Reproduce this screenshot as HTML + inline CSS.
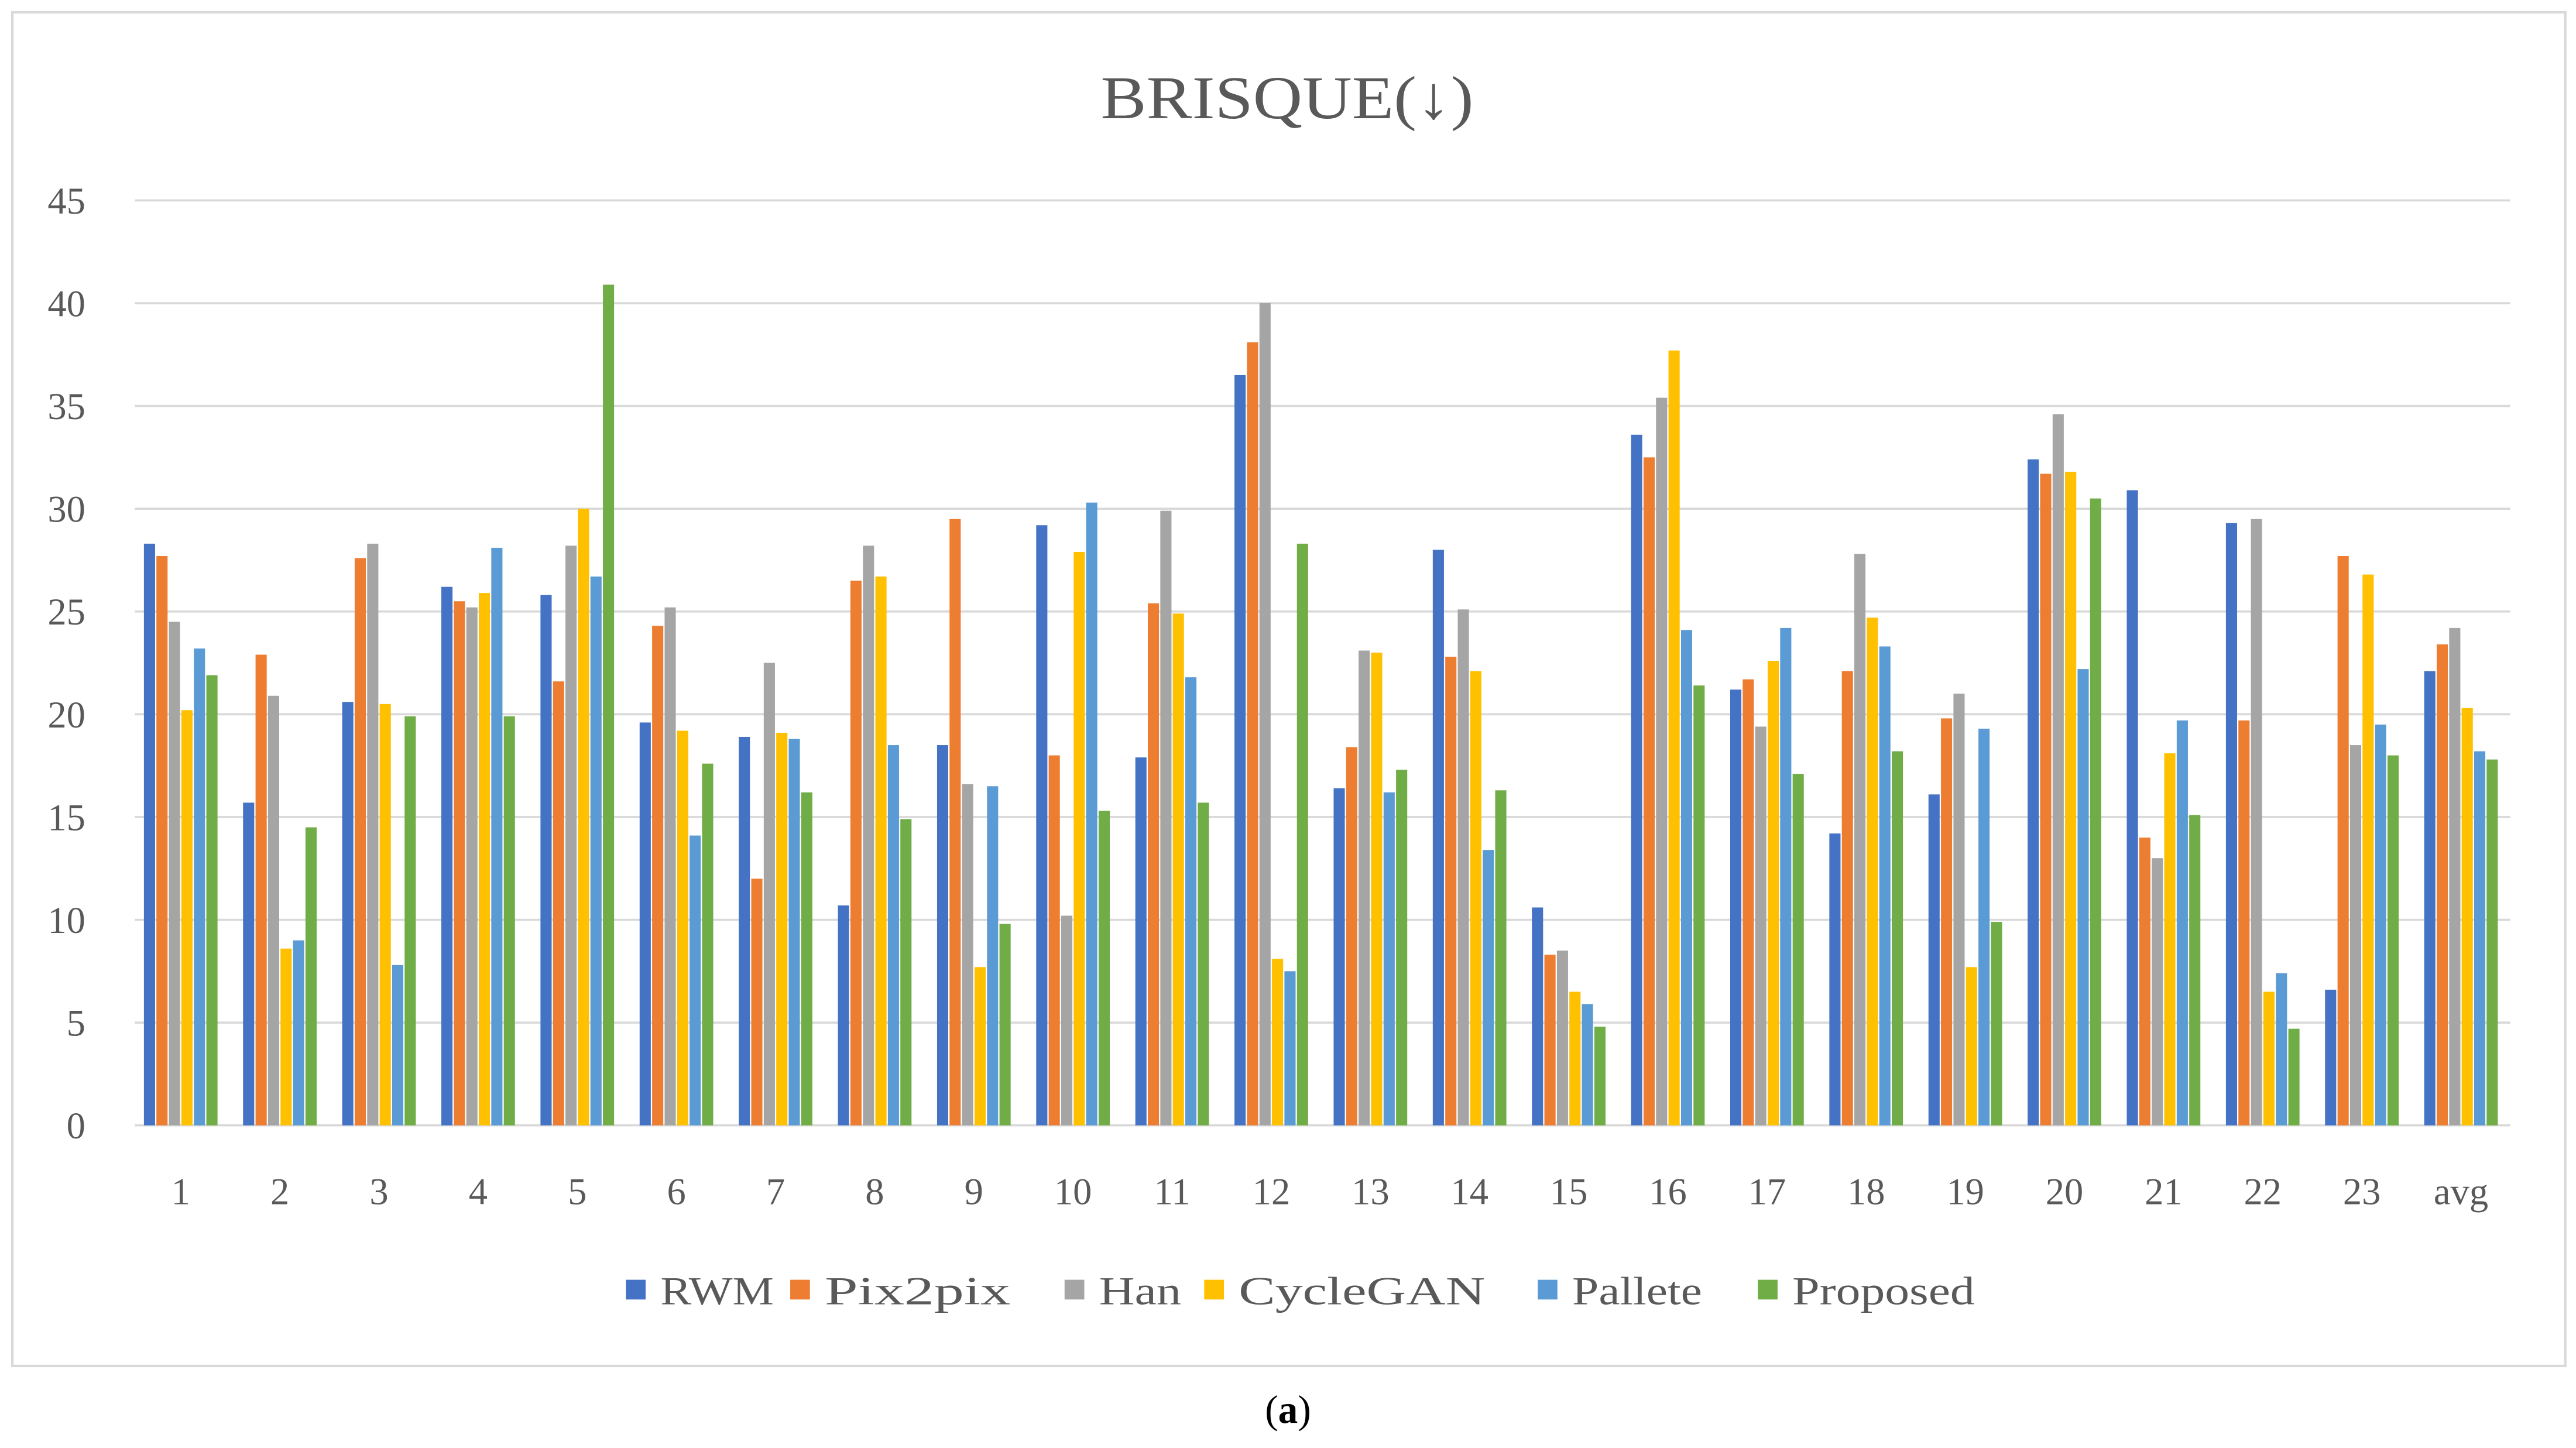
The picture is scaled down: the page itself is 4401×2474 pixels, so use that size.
<!DOCTYPE html>
<html><head><meta charset="utf-8"><style>
html,body{margin:0;padding:0;background:#fff;}
svg{display:block;}
text{font-family:"Liberation Serif",serif;}
</style></head><body>
<svg id="chart" width="4401" height="2474" viewBox="0 0 1568 881.4" preserveAspectRatio="none" xmlns="http://www.w3.org/2000/svg">
<rect x="7.5" y="7.5" width="1554" height="824" fill="#fff" stroke="#d9d9d9" stroke-width="1.5"/>
<text x="670" y="72" textLength="227" lengthAdjust="spacingAndGlyphs" font-size="37" fill="#595959">BRISQUE(↓)</text>
<g id="grid"></g><g id="bars"></g><g id="labels"></g><g id="legend"></g>
<text x="784" y="866" text-anchor="middle" font-size="24" fill="#000">(<tspan font-weight="bold">a</tspan>)</text>
</svg>
<script>
const categories = ["1","2","3","4","5","6","7","8","9","10","11","12","13","14","15","16","17","18","19","20","21","22","23","avg"];
const seriesNames = ["RWM","Pix2pix","Han","CycleGAN","Pallete","Proposed"];
const rwm      = [28.3,15.7,20.6,26.2,25.8,19.6,18.9,10.7,18.5,29.2,17.9,36.5,16.4,28.0,10.6,33.6,21.2,14.2,16.1,32.4,30.9,29.3,6.6,22.1];
const pix2pix  = [27.7,22.9,27.6,25.5,21.6,24.3,12.0,26.5,29.5,18.0,25.4,38.1,18.4,22.8,8.3,32.5,21.7,22.1,19.8,31.7,14.0,19.7,27.7,23.4];
const han      = [24.5,20.9,28.3,25.2,28.2,25.2,22.5,28.2,16.6,10.2,29.9,40.0,23.1,25.1,8.5,35.4,19.4,27.8,21.0,34.6,13.0,29.5,18.5,24.2];
const cyclegan = [20.2,8.6,20.5,25.9,30.0,19.2,19.1,26.7,7.7,27.9,24.9,8.1,23.0,22.1,6.5,37.7,22.6,24.7,7.7,31.8,18.1,6.5,26.8,20.3];
const pallete  = [23.2,9.0,7.8,28.1,26.7,14.1,18.8,18.5,16.5,30.3,21.8,7.5,16.2,13.4,5.9,24.1,24.2,23.3,19.3,22.2,19.7,7.4,19.5,18.2];
const proposed = [21.9,14.5,19.9,19.9,40.9,17.6,16.2,14.9,9.8,15.3,15.7,28.3,17.3,16.3,4.8,21.4,17.1,18.2,9.9,30.5,15.1,4.7,18.0,17.8];
const yTicks = [0,5,10,15,20,25,30,35,40,45];
const colors = ["#4472C4","#ED7D31","#A5A5A5","#FFC000","#5B9BD5","#70AD47"];
const series = [rwm,pix2pix,han,cyclegan,pallete,proposed];
const NS="http://www.w3.org/2000/svg";
const x0=82,x1=1528,yBase=685,yTop=122,maxV=45;
const y=v=>yBase-(v/maxV)*(yBase-yTop);
const step=(1498-110)/(categories.length-1);
const xc=i=>110+step*i;
const bw=7.6;
function mk(tag,attrs,parent){const e=document.createElementNS(NS,tag);for(const k in attrs)e.setAttribute(k,attrs[k]);parent.appendChild(e);return e;}
const grid=document.getElementById('grid'),bars=document.getElementById('bars'),labels=document.getElementById('labels'),legend=document.getElementById('legend');
yTicks.forEach(t=>{
  const l=mk('line',{x1:x0,x2:x1,y1:y(t),y2:y(t),stroke:'#d9d9d9','stroke-width':1.3},grid);
  
  
  const tx=mk('text',{x:52,y:y(t)+8,'text-anchor':'end','font-size':23,fill:'#595959'},labels);
  tx.textContent=t;
  
  
});
categories.forEach((c,i)=>{
  series.forEach((s,j)=>{
    const bx=xc(i)-3*bw+j*bw;
    const r=mk('rect',{x:bx+0.4,y:y(s[i]),width:bw-0.8,height:yBase-y(s[i]),fill:colors[j]},bars);
    
    
  });
  const tx=mk('text',{x:xc(i),y:733,'text-anchor':'middle','font-size':23,fill:'#595959'},labels);
  tx.textContent=c;
  
  
});
const legX=[381,481,648,733,936,1070];
const legW=[69,113,50,150,79,111];
seriesNames.forEach((n,j)=>{
  const g=mk('g',{},legend);
  
  
  mk('rect',{x:legX[j],y:779,width:12,height:12,fill:colors[j]},g);
  const t=mk('text',{x:legX[j]+21,y:794,'font-size':24,fill:'#595959',textLength:legW[j],lengthAdjust:'spacingAndGlyphs'},g);
  t.textContent=n;
});
</script>
</body></html>
